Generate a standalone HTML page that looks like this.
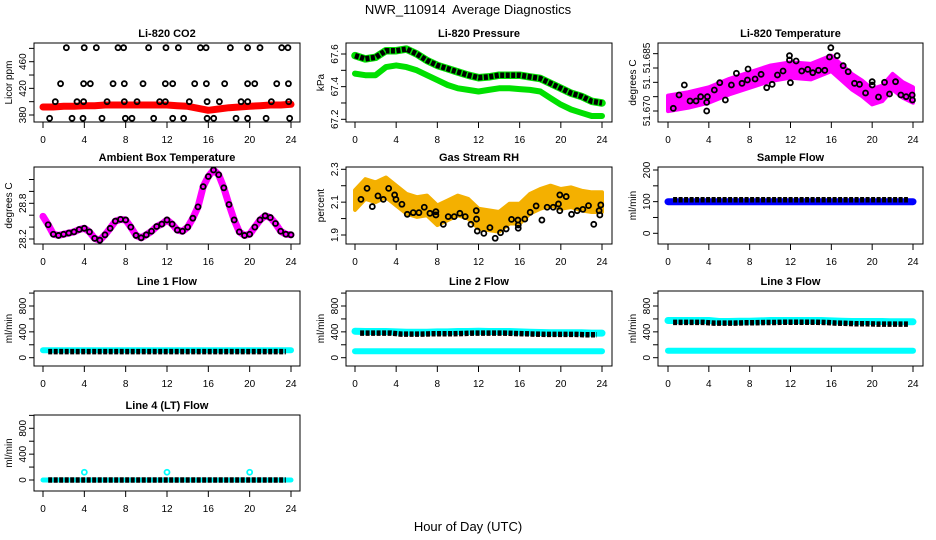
<!DOCTYPE html>
<html><head><meta charset="utf-8"><title>NWR_110914 Average Diagnostics</title>
<style>html,body{margin:0;padding:0;background:#fff;}svg{display:block;font-family:"Liberation Sans",Arial,sans-serif;}</style>
</head><body>
<svg id="chart" width="936" height="540" viewBox="0 0 936 540" xmlns="http://www.w3.org/2000/svg">
<rect width="936" height="540" fill="#fff"/>
<text x="468" y="14" font-size="13" text-anchor="middle">NWR_110914&#160; Average Diagnostics</text>
<text x="468" y="531" font-size="13" text-anchor="middle">Hour of Day (UTC)</text>
</svg>
<script>
// ---------- data ----------
const hours = [0,1,2,3,4,5,6,7,8,9,10,11,12,13,14,15,16,17,18,19,20,21,22,23,24];
const xTicks = [0,4,8,12,16,20,24];
// CO2
const co2Red = [392,392,393,393,394,394,395,395,395,395,395,395,395,394,393,390,387,389,391,392,393,394,395,395,396];
const co2Levels = [481,427,400,375];
const co2H481 = [2.26,3.99,5.16,7.26,7.8,10.22,11.9,13.1,15.23,15.78,18.13,19.8,21.0,23.1,23.7];
const co2H427 = [1.7,3.93,4.58,6.78,7.87,9.68,11.84,12.55,14.68,15.81,17.58,19.8,20.49,22.62,23.75];
const co2H400 = [1.19,3.29,3.93,6.2,7.87,9.1,11.29,11.84,14.16,15.88,17.07,19.17,19.81,22.1,23.78];
const co2H375 = [0.64,2.81,3.87,5.71,7.97,8.61,10.71,12.55,13.61,15.88,16.52,18.68,19.8,21.59,23.87];
// Pressure
const presUpper = [67.59,67.57,67.58,67.62,67.62,67.63,67.60,67.56,67.53,67.51,67.49,67.47,67.455,67.46,67.47,67.47,67.47,67.46,67.45,67.42,67.39,67.36,67.34,67.31,67.30];
const presLower = [67.48,67.47,67.47,67.52,67.53,67.52,67.50,67.47,67.44,67.41,67.39,67.38,67.37,67.38,67.39,67.39,67.385,67.38,67.37,67.33,67.29,67.26,67.24,67.22,67.22];
// Li-820 temperature
const tempBandH = [0,2,4,6,8,10,12,14,16,18,19,20,21,22,23,24];
const tempBand = [51.67267,51.67384,51.67558,51.67849,51.68081,51.68314,51.6843,51.68372,51.68663,51.68023,51.67791,51.675,51.67616,51.68023,51.67733,51.67558];
const tempPtsH = [0.52,1.08,1.6,2.16,2.75,3.2,3.86,3.79,3.79,4.54,5.07,5.62,6.21,6.7,7.25,7.78,7.84,8.53,9.12,9.67,10.2,10.72,11.27,11.9,11.9,11.99,12.55,13.1,13.69,14.18,14.74,15.36,15.82,15.95,16.57,17.16,17.65,18.27,18.76,19.35,20.0,20.0,20.62,21.21,21.7,22.29,22.81,23.33,23.92,23.95];
const tempPtsV = [51.67093,51.67558,51.67907,51.67349,51.67349,51.6750,51.6750,51.67302,51.6700,51.67733,51.67988,51.67384,51.67907,51.68314,51.67965,51.68081,51.68465,51.68116,51.68279,51.67814,51.6793,51.68256,51.68395,51.6893,51.68779,51.67988,51.68744,51.68395,51.68453,51.68337,51.68419,51.68419,51.68884,51.69209,51.6893,51.68581,51.68372,51.67965,51.6793,51.67628,51.68023,51.67907,51.67488,51.68,51.67593,51.68023,51.67558,51.6750,51.67558,51.67384];
// Ambient box temperature (half-hourly)
const ambH = [0,0.5,1,1.5,2,2.5,3,3.5,4,4.5,5,5.5,6,6.5,7,7.5,8,8.5,9,9.5,10,10.5,11,11.5,12,12.5,13,13.5,14,14.5,15,15.5,16,16.5,17,17.5,18,18.5,19,19.5,20,20.5,21,21.5,22,22.5,23,23.5,24];
const ambV = [28.58,28.44,28.28,28.26,28.28,28.30,28.32,28.36,28.38,28.32,28.21,28.18,28.27,28.38,28.50,28.53,28.52,28.40,28.26,28.22,28.27,28.33,28.41,28.45,28.52,28.45,28.35,28.33,28.40,28.55,28.74,29.08,29.25,29.36,29.28,29.06,28.78,28.52,28.32,28.26,28.28,28.40,28.52,28.59,28.56,28.46,28.33,28.28,28.27];
// Gas stream RH
const rhBand = [2.113,2.18,2.16,2.19,2.14,2.09,2.07,2.08,2.02,2.05,2.08,2.06,2.0,1.99,1.98,2.03,2.03,2.09,2.12,2.14,2.12,2.13,2.11,2.10,2.10];
const rhPtsH = [0.58,1.17,1.68,2.23,2.75,3.27,3.85,3.98,4.56,5.08,5.66,6.21,6.73,7.28,7.86,7.86,8.58,9.06,9.64,10.19,10.71,11.26,11.78,11.81,11.88,12.52,13.11,13.62,14.14,14.69,15.21,15.83,15.86,15.86,16.5,17.02,17.6,18.16,18.67,19.26,19.77,19.9,19.9,20.52,21.04,21.59,22.14,22.69,23.2,23.72,23.79,23.88];
const rhPtsV = [2.117,2.184,2.073,2.138,2.117,2.184,2.144,2.117,2.087,2.026,2.036,2.036,2.069,2.032,2.042,2.022,1.965,2.012,2.012,2.032,2.012,1.965,2.048,1.997,1.924,1.910,1.945,1.880,1.914,1.937,1.995,1.991,1.961,1.941,1.997,2.038,2.077,1.991,2.069,2.069,2.089,2.144,2.048,2.134,2.026,2.048,2.056,2.079,1.965,2.048,2.022,2.083];
// Flows (hourly)
const sampleBlue = [100,100,100,100,100,100,100,100,100,100,100,100,100,100,100,100,100,100,100,100,100,100,100,100,100];
const sampleBlack = [106,106,106,106,106,106,106,106,106,106,106,106,106,106,106,106,106,106,106,106,106,106,106,106,106];
const line1Cyan = [115,115,115,115,115,115,115,115,115,115,115,115,115,115,115,115,115,115,115,115,115,115,115,115,115];
const line1Black = [95,95,95,95,95,95,95,95,95,95,95,95,95,95,95,95,95,95,95,95,95,95,95,95,95];
const line2CyanHi = [410,405,405,405,400,395,395,395,400,400,405,405,410,405,405,405,400,395,390,385,385,385,385,380,380];
const line2CyanLo = [100,100,100,100,100,100,100,100,100,100,100,100,100,100,100,100,100,100,100,100,100,100,100,100,100];
const line2Black = [380,380,380,380,380,365,365,365,370,370,370,375,380,380,380,380,375,370,365,360,360,360,360,355,355];
const line3CyanHi = [575,575,575,575,575,560,560,565,565,570,575,575,575,575,575,575,570,565,560,560,560,560,555,555,555];
const line3CyanLo = [106,106,106,106,106,106,106,106,106,106,106,106,106,106,106,106,106,106,106,106,106,106,106,106,106];
const line3Black = [547,547,547,547,547,535,535,535,540,540,545,545,550,550,550,550,545,535,530,525,525,520,520,520,520];
const line4Black = [0,0,0,0,0,0,0,0,0,0,0,0,0,0,0,0,0,0,0,0,0,0,0,0,0];
const line4Cyan = [0,0,0,0,0,0,0,0,0,0,0,0,0,0,0,0,0,0,0,0,0,0,0,0,0];
const line4SpikeH = [4,12,20];
const line4SpikeV = [120,120,120];

// ---------- drawing helpers ----------
const NS = 'http://www.w3.org/2000/svg';
const svg = document.getElementById('chart');
function mk(tag, attrs, parent){ const e=document.createElementNS(NS,tag); for(const k in attrs) e.setAttribute(k,attrs[k]); (parent||svg).appendChild(e); return e; }

const colBox = [[34,300],[346,612],[658,923]];
const colX = [[43,291],[355,602],[668,913]];
const rowBox = [[43,122],[167,244],[291,366],[415,491]];

function makePanel(name,col,row,title,yTitle,yRef0,yPix0,yRef1,yPix1,ticks,labels,labelPos){
  const g = mk('g',{});
  
  
  const [l,r]=colBox[col], [t,b]=rowBox[row];
  const xs = h => colX[col][0] + h*(colX[col][1]-colX[col][0])/24;
  const k = (yPix1-yPix0)/(yRef1-yRef0);
  const ys = v => yPix0 + (v-yRef0)*k;
  const clipId='clip-'+name;
  const cp = mk('clipPath',{id:clipId},g); mk('rect',{x:l,y:t,width:r-l,height:b-t},cp);
  const plot = mk('g',{'clip-path':'url(#'+clipId+')'},g);
  
  
  const frame = mk('rect',{x:l,y:t,width:r-l,height:b-t,fill:'none',stroke:'#000','stroke-width':1},g);
  
  
  const tt = mk('text',{x:(l+r)/2,y:t-6,'font-size':11,'font-weight':'bold','text-anchor':'middle'},g);
  tt.textContent=title;
  
  
  xTicks.forEach(h=>{
    const x=xs(h);
    const tk=mk('line',{x1:x,y1:b,x2:x,y2:b+6,stroke:'#000'},g);
    
    
    const tl=mk('text',{x:x,y:b+21,'font-size':10,'text-anchor':'middle'},g);
    tl.textContent=h;
    
    
  });
  ticks.forEach(v=>{
    const y=ys(v);
    const tk=mk('line',{x1:l-5,y1:y,x2:l,y2:y,stroke:'#000'},g);
    
    
  });
  labels.forEach((s,i)=>{
    const y=ys(labelPos[i]);
    const tl=mk('text',{x:l-8,y:y,'font-size':10,'text-anchor':'middle',transform:`rotate(-90 ${l-8} ${y})`},g);
    tl.textContent=s;
    
    
  });
  const yc=(t+b)/2;
  const yt=mk('text',{x:l-22,y:yc,'font-size':10,'text-anchor':'middle',transform:`rotate(-90 ${l-22} ${yc})`},g);
  yt.textContent=yTitle;
  
  
  return {xs,ys,plot};
}
function pts(p,hs,vs){ return hs.map((h,i)=>p.xs(h).toFixed(1)+','+p.ys(vs[i]).toFixed(1)).join(' '); }
function band(p,hs,vs,w,color,nm,dash){
  const a={points:pts(p,hs,vs),fill:'none',stroke:color,'stroke-width':w,'stroke-linejoin':'round','stroke-linecap':dash?'butt':'round'};
  if(dash) a['stroke-dasharray']=dash;
  const e=mk('polyline',a,p.plot);
  
  
  return e;
}
function circles(p,hs,vs,color,nm,r,sw){
  hs.forEach((h,i)=>{
    const c=mk('circle',{cx:p.xs(h),cy:p.ys(vs[i]),r:r||2.5,fill:'none',stroke:color,'stroke-width':sw||1.8},p.plot);
    
    
  });
}
function cloud(p,hs,vs,spread,color,nm){
  const up=hs.map((h,i)=>p.xs(h).toFixed(1)+','+p.ys(vs[i]+spread).toFixed(1));
  const lo=hs.map((h,i)=>p.xs(h).toFixed(1)+','+p.ys(vs[i]-spread).toFixed(1)).reverse();
  const e=mk('polygon',{points:up.concat(lo).join(' '),fill:color,stroke:color,'stroke-width':4,'stroke-linejoin':'round'},p.plot);
  
  
}
const DOTS='4 1.5';
const DW=5.5;

// Panel 1: CO2
let p=makePanel('li820-co2-panel',0,0,'Li-820 CO2','Licor ppm',380,115,460,61.7,[380,400,420,440,460,480],['380','420','460'],[380,420,460]);
band(p,hours,co2Red,7,'#ff0000','co2-red-series');
[co2H481,co2H427,co2H400,co2H375].forEach((hs,i)=>circles(p,hs,hs.map(()=>co2Levels[i]),'#000','co2-point'));

// Panel 2: Pressure
p=makePanel('li820-pressure-panel',1,0,'Li-820 Pressure','kPa',67.6,54,67.2,119.3,[67.2,67.3,67.4,67.5,67.6],['67.2','67.4','67.6'],[67.2,67.4,67.6]);
band(p,hours,presLower,6,'#00e000','pressure-lower-series');
band(p,hours,presUpper,7.5,'#00e000','pressure-upper-series');
band(p,hours,presUpper,DW,'#000','pressure-upper-points',DOTS);

// Panel 3: Li-820 temperature
p=makePanel('li820-temperature-panel',2,0,'Li-820 Temperature','degrees C',51.670,111,51.680,82.33,[51.670,51.675,51.680,51.685,51.690],['51.670','51.','51.685'],[51.670,51.680,51.6885]);
cloud(p,tempBandH,tempBand,0.0027,'#ff00ff','temperature-magenta-cloud');
circles(p,tempPtsH,tempPtsV,'#000','temperature-point');

// Panel 4: Ambient box temperature
p=makePanel('ambient-box-temperature-panel',0,1,'Ambient Box Temperature','degrees C',28.2,239,28.8,203.3,[28.2,28.4,28.6,28.8,29.0,29.2],['28.2','28.8'],[28.2,28.8]);
band(p,ambH,ambV,7,'#ff00ff','ambient-magenta-series');
circles(p,ambH.slice(1),ambV.slice(1),'#000','ambient-point');

// Panel 5: Gas stream RH
p=makePanel('gas-stream-rh-panel',1,1,'Gas Stream RH','percent',2.3,169.3,1.9,235,[1.9,2.0,2.1,2.2,2.3],['1.9','2.1','2.3'],[1.9,2.1,2.3]);
cloud(p,hours,rhBand,0.06,'#f4b000','rh-orange-cloud');
circles(p,rhPtsH,rhPtsV,'#000','rh-point');

// Panel 6: Sample flow
p=makePanel('sample-flow-panel',2,1,'Sample Flow','ml/min',0,233.3,200,170,[0,50,100,150,200],['0','100','200'],[0,100,200]);
band(p,hours,sampleBlue,7,'#0000ff','sample-blue-series');
band(p,hours.slice(1).map(h=>h-0.5),sampleBlack.slice(1),DW,'#000','sample-black-points',DOTS);

const flowTicks=[0,200,400,600,800,1000], flowLabels=['0','400','800'], flowLabelV=[0,400,800];
// Line 1
p=makePanel('line1-flow-panel',0,2,'Line 1 Flow','ml/min',0,357.7,800,306,flowTicks,flowLabels,flowLabelV);
band(p,hours,line1Cyan,6,'#00ffff','line1-cyan-series');
band(p,hours.slice(1).map(h=>h-0.5),line1Black.slice(1),DW,'#000','line1-black-points',DOTS);
// Line 2
p=makePanel('line2-flow-panel',1,2,'Line 2 Flow','ml/min',0,357.7,800,306,flowTicks,flowLabels,flowLabelV);
band(p,hours,line2CyanHi,7,'#00ffff','line2-cyan-high-series');
band(p,hours,line2CyanLo,6,'#00ffff','line2-cyan-low-series');
band(p,hours.slice(1).map(h=>h-0.5),line2Black.slice(1),DW,'#000','line2-black-points',DOTS);
// Line 3
p=makePanel('line3-flow-panel',2,2,'Line 3 Flow','ml/min',0,357.7,800,306,flowTicks,flowLabels,flowLabelV);
band(p,hours,line3CyanHi,7,'#00ffff','line3-cyan-high-series');
band(p,hours,line3CyanLo,6,'#00ffff','line3-cyan-low-series');
band(p,hours.slice(1).map(h=>h-0.5),line3Black.slice(1),DW,'#000','line3-black-points',DOTS);
// Line 4
p=makePanel('line4-lt-flow-panel',0,3,'Line 4 (LT) Flow','ml/min',0,480,800,428.3,flowTicks,flowLabels,flowLabelV);
band(p,hours,line4Cyan,5,'#00ffff','line4-cyan-series');
band(p,hours.slice(1).map(h=>h-0.5),line4Black.slice(1),DW,'#000','line4-black-points',DOTS);
circles(p,line4SpikeH,line4SpikeV,'#00ffff','line4-cyan-spike');
</script>
</body></html>
